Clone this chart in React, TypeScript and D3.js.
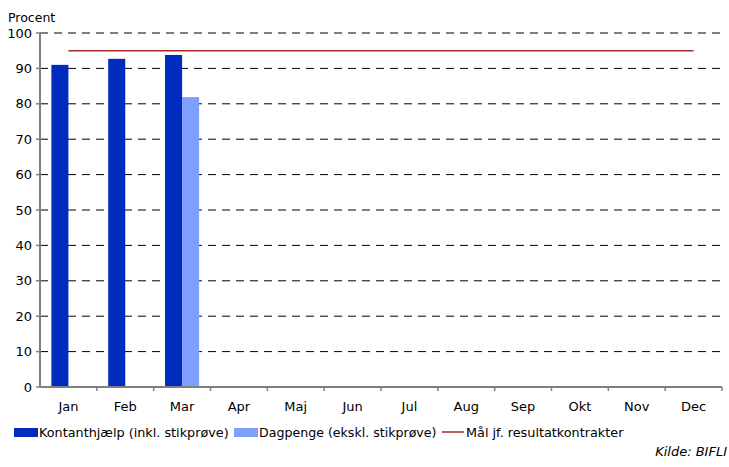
import React from "react";
import * as d3 from "d3";

const months = ["Jan", "Feb", "Mar", "Apr", "Maj", "Jun", "Jul", "Aug", "Sep", "Okt", "Nov", "Dec"];
const kontant: (number | null)[] = [91.0, 92.7, 93.8, null, null, null, null, null, null, null, null, null];
const dagpenge: (number | null)[] = [null, null, 81.9, null, null, null, null, null, null, null, null, null];
const target: number[] = [95, 95, 95, 95, 95, 95, 95, 95, 95, 95, 95, 95];
const yTicks = [0, 10, 20, 30, 40, 50, 60, 70, 80, 90, 100];
const seriesNames = ["Kontanthjælp (inkl. stikprøve)", "Dagpenge (ekskl. stikprøve)", "Mål jf. resultatkontrakter"];

const W = 729, H = 467;
const L = 40, R = 722, T = 33, B = 387;
const font = "Verdana, 'DejaVu Sans', sans-serif";
const dark = "#002BBF";
const light = "#7F9FFF";
const red = "#A52A2A";

export default function App() {
  const x = d3.scaleBand<string>().domain(months).range([L, R]).paddingInner(0.4).paddingOuter(0.2);
  const step = (R - L) / months.length;
  const xc = (m: string) => L + step * months.indexOf(m) + step / 2;
  const sub = d3.scaleBand<number>().domain([0, 1]).range([0, x.bandwidth()]);
  const y = d3.scaleLinear().domain([0, 100]).range([B, T]);
  const line = d3.line<number>().x((_, i) => xc(months[i])).y((d) => y(d));
  const series = [kontant, dagpenge];
  const colors = [dark, light];
  return (
    <svg width={W} height={H} style={{ position: "absolute", left: 0, top: 0, background: "#fff" }} fontFamily={font}>
      <rect width={W} height={H} fill="#fff" />
      {yTicks.filter((t) => t > 0).map((t) => (
        <line key={t} x1={L} x2={725} y1={y(t)} y2={y(t)} stroke="#000" strokeWidth={1} strokeDasharray="8,6" />
      ))}
      {series.map((s, si) =>
        s.map((v, i) =>
          v == null ? null : (
            <rect key={si + "-" + i} x={(x(months[i]) as number) + (sub(si) as number)} y={y(v)} width={sub.bandwidth()} height={B - y(v)} fill={colors[si]} />
          )
        )
      )}
      <path d={line(target) || ""} fill="none" stroke={red} strokeWidth={1.5} />
      <line x1={L} x2={L} y1={T} y2={B} stroke="#808080" strokeWidth={2} />
      <line x1={L} x2={R} y1={B} y2={B} stroke="#808080" strokeWidth={2} />
      {yTicks.map((t) => (
        <g key={t}>
          <line x1={L - 4} x2={L} y1={y(t)} y2={y(t)} stroke="#808080" strokeWidth={1.5} />
          <text x={32} y={y(t)} dy="0.35em" textAnchor="end" fontSize={13} fill="#000">{t}</text>
        </g>
      ))}
      {months.map((m, i) => (
        <g key={m}>
          <line x1={L + step * (i + 1)} x2={L + step * (i + 1)} y1={B} y2={B + 4} stroke="#808080" strokeWidth={1.5} />
          <text x={xc(m)} y={411} textAnchor="middle" fontSize={13} fill="#000">{m}</text>
        </g>
      ))}
      <text x={8} y={22} fontSize={12.5} fill="#000">Procent</text>
      <rect x={14} y={428} width={24} height={9} fill={dark} />
      <text x={39} y={437} fontSize={12.8} fill="#000">{seriesNames[0]}</text>
      <rect x={234} y={428} width={24} height={9} fill={light} />
      <text x={259} y={437} fontSize={12.6} fill="#000">{seriesNames[1]}</text>
      <line x1={442} x2={464} y1={432} y2={432} stroke={red} strokeWidth={1.5} />
      <text x={466} y={437} fontSize={12.8} fill="#000">{seriesNames[2]}</text>
      <text x={727} y={456} textAnchor="end" fontSize={13} fontStyle="italic" fill="#000">Kilde: BIFLI</text>
    </svg>
  );
}
